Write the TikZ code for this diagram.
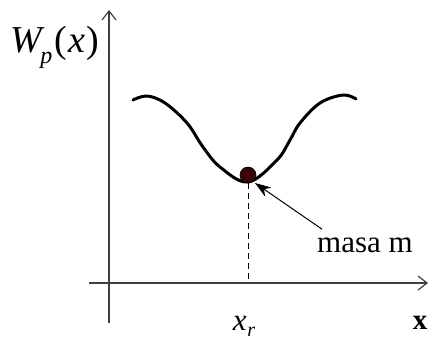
\documentclass[tikz,border=0pt]{standalone}
\usepackage{fontspec}
\setmainfont{Liberation Serif}
\newfontfamily\tms{Liberation Serif}
\usetikzlibrary{arrows.meta}
\definecolor{ballc}{HTML}{3A0505}
\definecolor{axisc}{HTML}{404040}
\tikzset{
  axisline/.style={draw=axisc, line width=1.5pt, -{Straight Barb[length=9pt,width=14pt,line width=1.2pt]}},
  curveline/.style={line width=3pt, line cap=round, line join=round},
  pointer/.style={line width=1pt, -{Stealth[length=16pt,width=11pt,inset=5pt]}},
  lbl/.style={inner sep=0pt, anchor=base, font=\tms}
}
\begin{document}
\begin{tikzpicture}[x=1pt,y=-1pt]
\useasboundingbox (0,0) rectangle (430,340);
% axes
\coordinate (xs) at (89,283);
\coordinate (xe) at (428,283);
\coordinate (ys) at (109,323);
\coordinate (ye) at (109,10);
\draw[axisline] (xs) -- (xe);
\draw[axisline] (ys) -- (ye);
% curve
\draw[curveline] plot[smooth, tension=0.6] coordinates {(133,100) (147,96) (165,103) (187,123) (203,147) (220,167) (248,182) (277,160) (290,140) (300,123) (320,103) (343,95) (356,99)};
% ball and dashed line
\coordinate (xr) at (248,283);
\node[circle, fill=ballc, draw=black, line width=0.6pt, minimum size=16pt, inner sep=0pt] (ball) at (248,175) {};
\draw[dashed, dash pattern=on 6pt off 4pt, line width=1pt] (ball.south) -- (xr);
% labels
\node[lbl, anchor=base west] (wp) at (10,52) {\fontsize{38}{46}\selectfont\itshape W\kern-0.04em\raisebox{-0.3em}{\fontsize{24}{30}\selectfont p}\kern0.06em\upshape(\kern0.02em\itshape x\kern0.03em\upshape)};
\node[lbl] (mm) at (365,252) {\fontsize{31}{36}\selectfont masa m};
\node[lbl] (xrl) at (244,330) {\fontsize{31}{36}\selectfont\itshape x\kern0.02em\raisebox{-0.22em}{\fontsize{20}{24}\selectfont r}};
\node[lbl] (xl) at (420,329) {\fontsize{29}{34}\selectfont\bfseries x};
\coordinate (tip) at (255,183);
\draw[pointer] (mm.north west) ++(5,-8) coordinate (ps) (ps) -- (tip);
\end{tikzpicture}
\end{document}
